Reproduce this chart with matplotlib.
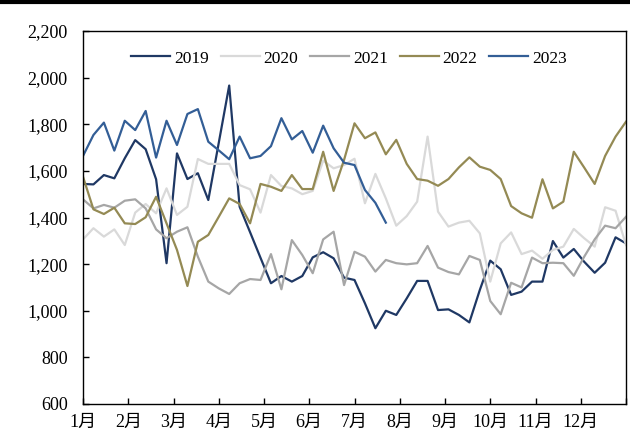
import numpy as np
import matplotlib
matplotlib.use('Agg')
import matplotlib.pyplot as plt
from matplotlib.lines import Line2D
from matplotlib.ticker import FuncFormatter

# weekly values, 53 points across the year
v2019 = [1544, 1542, 1582, 1568, 1654, 1732, 1693, 1564, 1204, 1675,
         1565, 1590, 1475, 1720, 1966, 1446, 1337, 1227, 1118, 1149,
         1125, 1149, 1229, 1251, 1225, 1142, 1132, 1032, 925, 1000,
         982, 1053, 1128, 1128, 1003, 1006, 982, 950, 1089, 1215,
         1178, 1068, 1082, 1125, 1125, 1299, 1228, 1265, 1210, 1163,
         1206, 1315, 1289]
v2020 = [1306, 1354, 1318, 1349, 1282, 1421, 1458, 1418, 1525, 1411,
         1446, 1651, 1630, 1630, 1630, 1539, 1521, 1421, 1582, 1535,
         1525, 1500, 1514, 1644, 1611, 1625, 1652, 1461, 1587, 1482,
         1365, 1406, 1468, 1747, 1425, 1361, 1378, 1386, 1332, 1125,
         1289, 1336, 1243, 1258, 1223, 1261, 1275, 1351, 1311, 1275,
         1444, 1429, 1282]
v2021 = [1478, 1439, 1454, 1442, 1472, 1478, 1439, 1349, 1311, 1339,
         1358, 1232, 1125, 1096, 1072, 1118, 1136, 1132, 1243, 1092,
         1303, 1239, 1161, 1306, 1339, 1110, 1253, 1232, 1168, 1218,
         1204, 1199, 1204, 1278, 1185, 1166, 1156, 1235, 1218, 1042,
         985, 1120, 1100, 1228, 1204, 1206, 1204, 1150, 1232, 1306,
         1365, 1354, 1403]
v2022 = [1575, 1435, 1415, 1442, 1375, 1372, 1401, 1489, 1375, 1261,
         1106, 1296, 1325, 1403, 1482, 1458, 1375, 1544, 1532, 1514,
         1582, 1522, 1522, 1682, 1514, 1647, 1804, 1740, 1765, 1671,
         1733, 1630, 1565, 1558, 1536, 1565, 1615, 1658, 1618, 1604,
         1565, 1449, 1418, 1399, 1564, 1439, 1468, 1682, 1614, 1544,
         1664, 1747, 1811]
v2023 = [1664, 1754, 1807, 1687, 1815, 1775, 1857, 1657, 1815, 1711,
         1844, 1865, 1725, 1688, 1650, 1747, 1654, 1664, 1706, 1826,
         1735, 1771, 1678, 1794, 1697, 1635, 1625, 1518, 1463, 1378]

years = ['2019', '2020', '2021', '2022', '2023']
colors = ['#1f3864', '#d9d9d9', '#a6a6a6', '#948a54', '#335e96']
months = ['1月', '2月', '3月', '4月', '5月', '6月', '7月', '8月', '9月', '10月', '11月', '12月']

font_list = ['Liberation Serif', 'Noto Sans CJK SC']
plt.rcParams['font.family'] = font_list
plt.rcParams['font.size'] = 13

fig = plt.figure(figsize=(6.3, 4.47), dpi=100)
ax = fig.add_axes([83 / 630, 43 / 447, 543 / 630, 373 / 447])

for name, vals, c in zip(years, [v2019, v2020, v2021, v2022, v2023], colors):
    ax.plot(np.arange(len(vals)), vals, color=c, lw=1.6, label=name)

ax.set_xlim(0, 52)
ax.set_ylim(600, 2200)
ax.set_yticks(np.arange(600, 2201, 200))
ax.yaxis.set_major_formatter(FuncFormatter(lambda v, p: f'{int(v):,}'))
ax.set_xticks([i * 52 / 12 for i in range(12)] + [52])
ax.set_xticklabels(months + [''])
ax.tick_params(axis='y', direction='in', length=4, width=1, pad=11)
ax.tick_params(axis='x', direction='in', length=4, width=1, pad=7)

for s in ax.spines.values():
    s.set_linewidth(1.0)
    s.set_color('black')

ax.legend(loc='upper center', bbox_to_anchor=(0.49, 0.99), ncol=5, frameon=False,
          handlelength=2.25, handletextpad=0.2, columnspacing=0.7, fontsize=12.5)

# thick rule at the very top
fig.add_artist(Line2D([0, 1], [0.996, 0.996], color='black', lw=3, transform=fig.transFigure))

plt.savefig('out.png', dpi=100)
